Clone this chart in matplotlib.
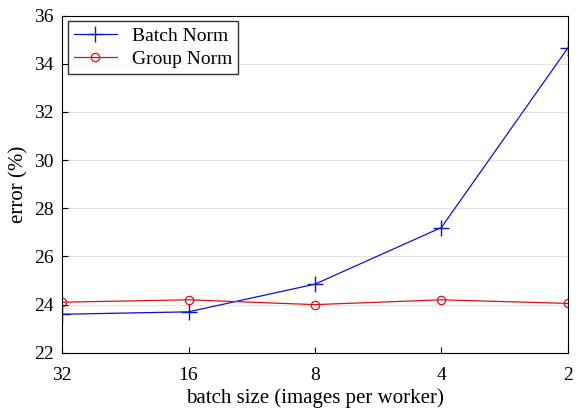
import matplotlib
matplotlib.use("Agg")
import matplotlib.pyplot as plt

batch_labels = ["32", "16", "8", "4", "2"]
batch_norm = [23.6, 23.7, 24.85, 27.2, 34.65]
group_norm = [24.1, 24.2, 24.0, 24.2, 24.05]

plt.rcParams["font.family"] = ["Liberation Serif", "DejaVu Serif"]
plt.rcParams["font.size"] = 14

fig, ax = plt.subplots(figsize=(5.8, 4.2), dpi=100)
fig.subplots_adjust(left=0.107, right=0.979, top=0.963, bottom=0.16)

x = range(len(batch_labels))
ax.plot(x, batch_norm, color="#1010d0", lw=0.9, marker="+", ms=11, mew=1.0, label="Batch Norm")
ax.plot(x, group_norm, color="#e01010", lw=0.9, marker="o", ms=6, mfc="none", mew=0.9, label="Group Norm")

ax.set_xlim(0, 4)
ax.set_ylim(22, 36)
ax.set_xticks(list(x))
ax.set_xticklabels(batch_labels)
ax.set_yticks(range(22, 37, 2))
ax.yaxis.grid(True, color="#e3e3e3", lw=0.8)
ax.set_axisbelow(True)
ax.tick_params(direction="in", length=4, labelsize=14)
ax.tick_params(axis="x", pad=10)
ax.tick_params(axis="y", pad=6)
ax.set_xlabel("batch size (images per worker)", fontsize=15, labelpad=3)
ax.set_ylabel("error (%)", fontsize=15)
ax.legend(loc="upper left", fontsize=14, frameon=True, fancybox=False,
          edgecolor="black", handlelength=2.2, borderpad=0.3, labelspacing=0.3,
          borderaxespad=0.3)

fig.savefig("out.png", dpi=100)
